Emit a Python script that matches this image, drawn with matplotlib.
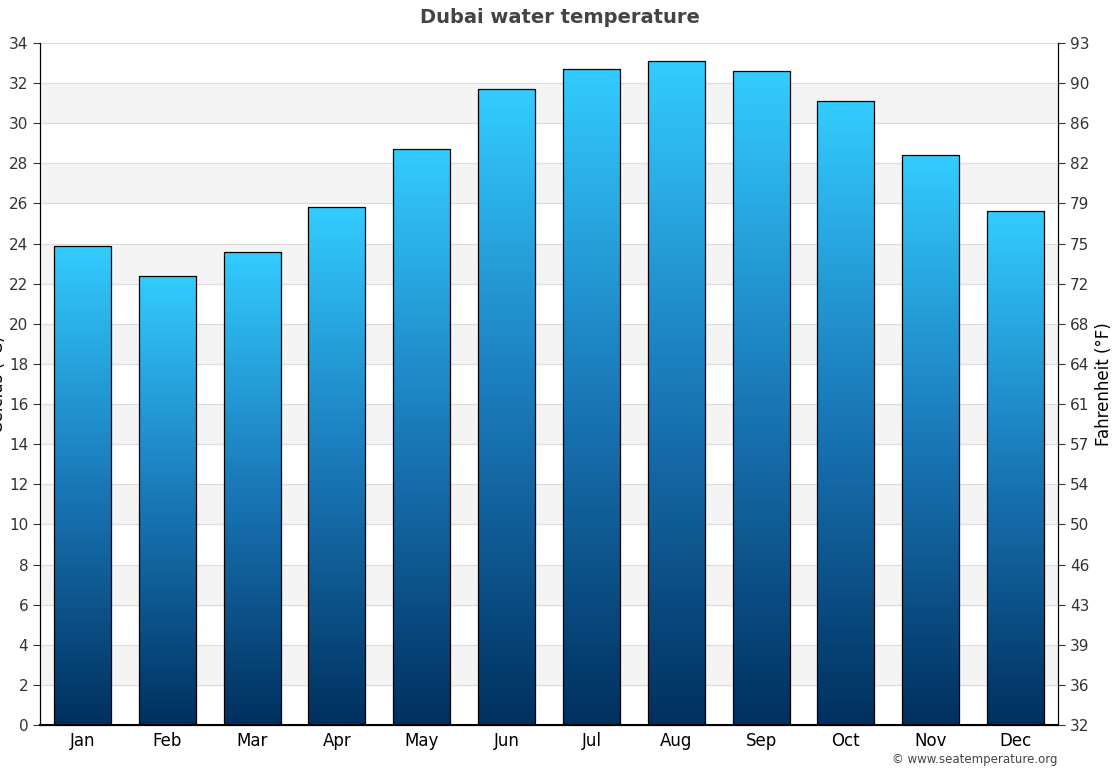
import numpy as np
import matplotlib.pyplot as plt
from matplotlib.colors import LinearSegmentedColormap
from matplotlib.patches import Rectangle

months = ['Jan', 'Feb', 'Mar', 'Apr', 'May', 'Jun', 'Jul', 'Aug', 'Sep', 'Oct', 'Nov', 'Dec']
celsius = [23.9, 22.4, 23.6, 25.8, 28.7, 31.7, 32.7, 33.1, 32.6, 31.1, 28.4, 25.6]
c_ticks = list(range(0, 35, 2))
f_labels = [32, 36, 39, 43, 46, 50, 54, 57, 61, 64, 68, 72, 75, 79, 82, 86, 90, 93]

fig = plt.figure(figsize=(11.19, 7.68), dpi=100)
ax = fig.add_axes([40 / 1119, 43 / 768, 1018 / 1119, 682 / 768])

x = np.arange(len(months))
ax.set_xlim(-0.5, 11.5)
ax.set_ylim(0, 34)

# alternating grey bands
for lo in range(2, 34, 4):
    ax.axhspan(lo, lo + 2, color='#f4f4f4', zorder=0)
for t in c_ticks:
    ax.axhline(t, color='#dddddd', lw=0.8, zorder=0.5)

cmap = LinearSegmentedColormap.from_list('sea', ['#00305f', '#1a78b8', '#33ccff'])
grad = np.linspace(0, 1, 256).reshape(-1, 1)
w = 0.67
for xi, v in zip(x, celsius):
    im = ax.imshow(grad, cmap=cmap, origin='lower', aspect='auto',
                   extent=[xi - w / 2, xi + w / 2, 0, v], zorder=2)
    r = Rectangle((xi - w / 2, 0), w, v, fill=False, ec='black', lw=0.9, zorder=3)
    ax.add_patch(r)
    im.set_clip_path(r)

ax.set_xticks(x)
ax.set_xticklabels(months, fontsize=12)
ax.set_yticks(c_ticks)
ax.tick_params(axis='y', labelsize=11, colors='#333333', length=5)
ax.tick_params(axis='x', length=0, pad=5)
ax.set_ylabel('Celcius (°C)', fontsize=12)
ax.yaxis.set_label_coords(-0.032, 0.5)
ax.spines['top'].set_visible(False)
ax.spines['bottom'].set_linewidth(1.5)

ax2 = ax.twinx()
ax2.set_ylim(0, 34)
ax2.set_yticks(c_ticks)
ax2.set_yticklabels([str(f) for f in f_labels])
ax2.tick_params(axis='y', labelsize=11, colors='#333333', length=5)
ax2.set_ylabel('Fahrenheit (°F)', fontsize=12)
ax2.spines['top'].set_visible(False)

fig.text(0.5, 0.977, 'Dubai water temperature', ha='center', va='center',
         fontsize=14, fontweight='bold', color='#444444')
fig.text(0.945, 0.003, '© www.seatemperature.org', ha='right', va='bottom',
         fontsize=8.5, color='#444444')

fig.savefig('out.png', dpi=100)
